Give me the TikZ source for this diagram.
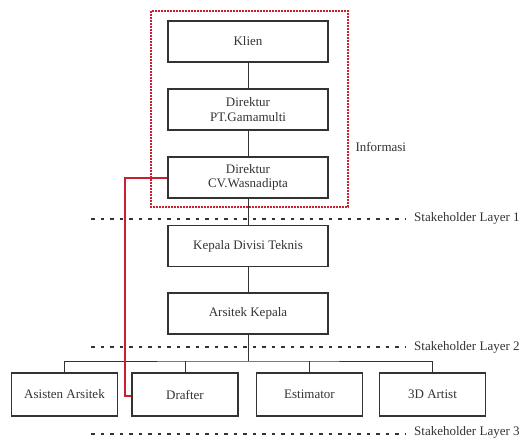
\documentclass[tikz,border=0pt]{standalone}
\usepackage{fontspec}
\setmainfont{Liberation Serif}
\usetikzlibrary{positioning}
\definecolor{InkGrey}{HTML}{333333}
\definecolor{TextGrey}{HTML}{333333}
\definecolor{InfoRed}{HTML}{C8202F}

\begin{document}
\begin{tikzpicture}[
    x=1pt, y=-1pt,
    every node/.style={font=\fontsize{13}{14.5}\selectfont, text=TextGrey},
    role/.style={draw=InkGrey, line width=1.1pt, minimum width=160pt, minimum height=41pt,
        inner sep=2pt, align=center},
    staff/.style={draw=InkGrey, line width=1.1pt, minimum width=106pt, minimum height=43pt,
        inner sep=2pt, align=center},
    link/.style={InkGrey, line width=0.9pt},
    layer/.style={InkGrey, line width=1.3pt, dash pattern=on 3.5pt off 6pt},
    infoline/.style={InfoRed, line width=1.2pt},
]
\useasboundingbox (0,0) rectangle (524,439);

% === Information box ===
\draw[InfoRed, line width=1.5pt, dash pattern=on 1.6pt off 1.4pt] (151,11) rectangle (348,207);
\node[anchor=west] (info) at (352,147) {Informasi};

% =============================================
% MAIN CHAIN
% =============================================
\node[role] (klien) at (248,41.5) {Klien};
\node[role] (dirpt) at (248,109.5) {Direktur\\PT.Gamamulti};
\node[role] (dircv) at (248,177.5) {Direktur\\CV.Wasnadipta};
\node[role] (kadiv) at (248,246) {Kepala Divisi Teknis};
\node[role] (arsk)  at (248,313.5) {Arsitek Kepala};

\draw[link] (klien) -- (dirpt);
\draw[link] (dirpt) -- (dircv);
\draw[link] (dircv) -- (kadiv);
\draw[link] (kadiv) -- (arsk);

% =============================================
% STAFF
% =============================================
\node[staff] (asisten)   at (64.5,394.5)  {Asisten Arsitek};
\node[staff] (drafter)   at (185,394.5)   {Drafter};
\node[staff] (estimator) at (309.5,394.5) {Estimator};
\node[staff] (artist)    at (432.5,394.5) {3D Artist};

\coordinate (bus) at (248,361);
\draw[link] (arsk.south) -- (bus);
\draw[link] (asisten.north) |- (bus) -| (artist.north);
\draw[link] (drafter.north) -- (drafter.north |- bus);
\draw[link] (estimator.north) -- (estimator.north |- bus);

% =============================================
% STAKEHOLDER LAYERS
% =============================================
\coordinate (l1a) at (91,219);
\coordinate (l2a) at (91,347);
\coordinate (l3a) at (91,434);
\node[anchor=west, inner sep=0pt] (l1) at (414,218) {Stakeholder Layer 1};
\node[anchor=west, inner sep=0pt] (l2) at (414,347) {Stakeholder Layer 2};
\node[anchor=west, inner sep=0pt] (l3) at (414,432) {Stakeholder Layer 3};
\draw[layer] (l1a) -- ++(314,0);
\draw[layer] (l2a) -- ++(314,0);
\draw[layer] (l3a) -- ++(314,0);

% === Information line to Drafter ===
\draw[infoline] (dircv.west |- 0,178) -- (125,178) |- (drafter.west |- 0,396);

\end{tikzpicture}
\end{document}
